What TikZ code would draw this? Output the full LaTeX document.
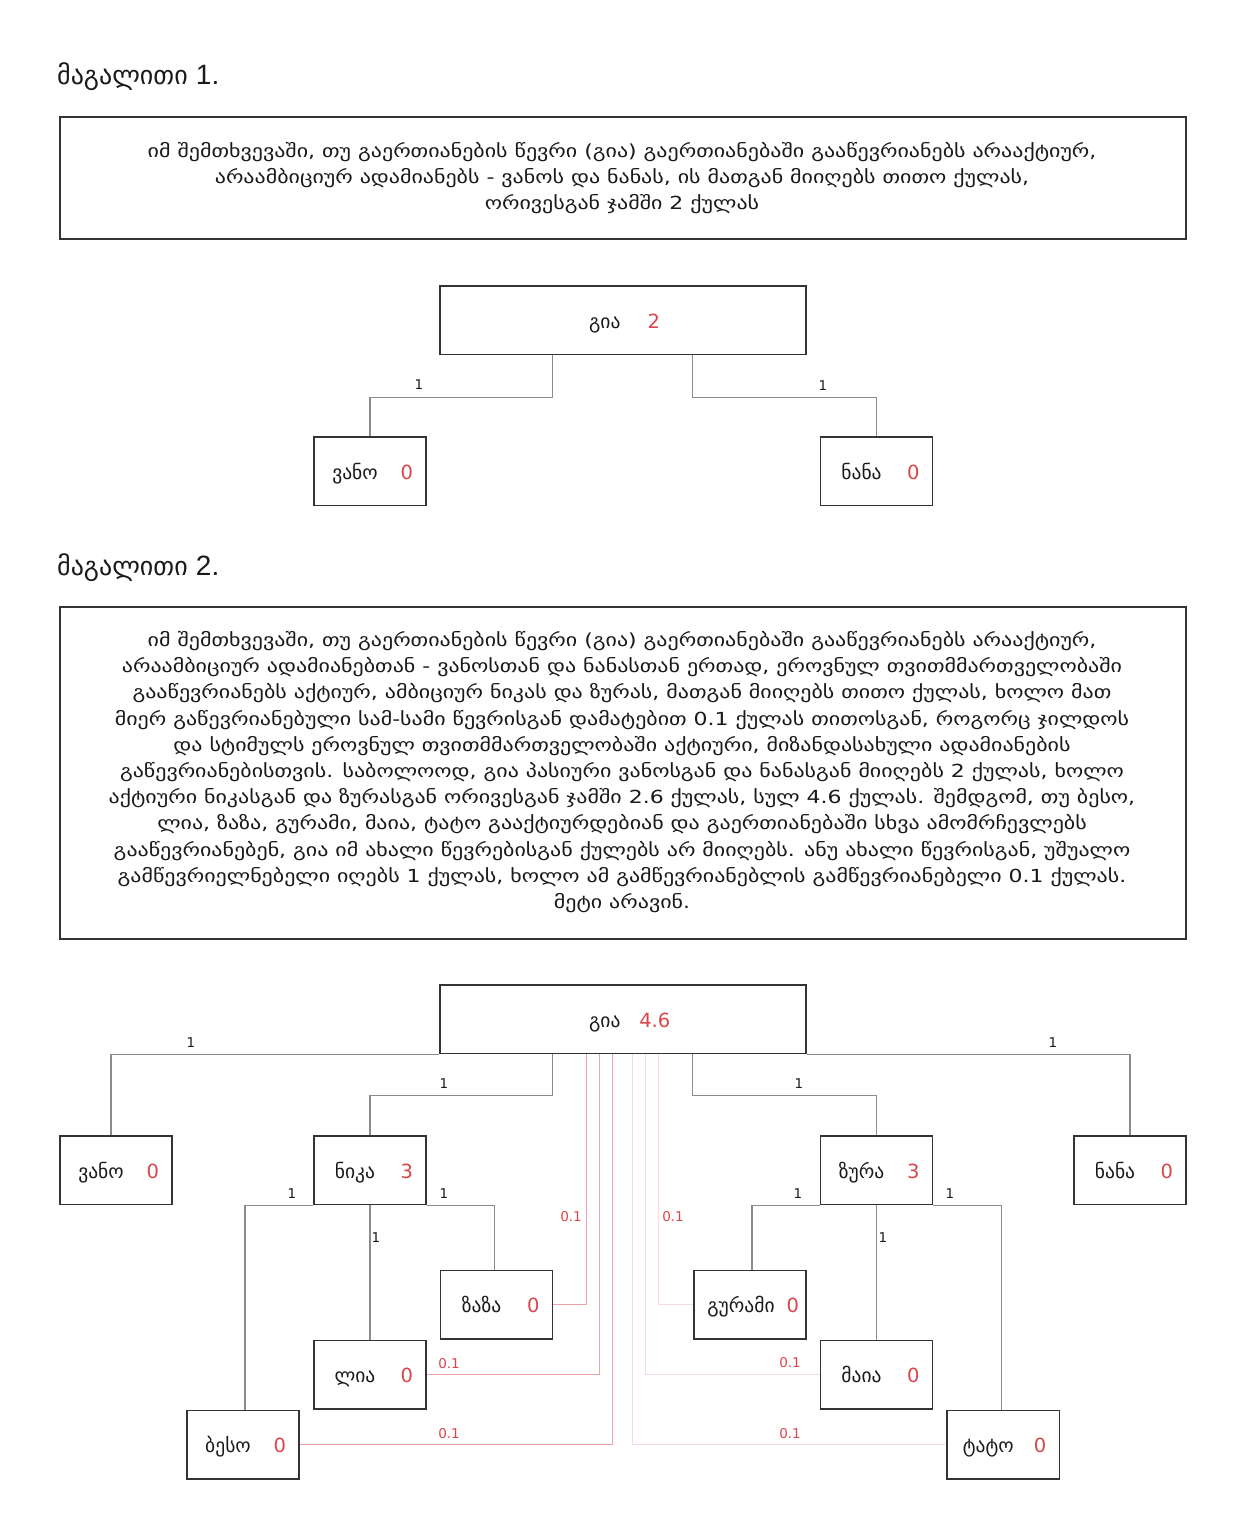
\documentclass[tikz,border=0pt]{standalone}
\usepackage{fontspec}
\setmainfont{DejaVu Sans}
\newfontfamily\headlat{Liberation Sans}
\newfontfamily\parafont[FakeStretch=1.22]{DejaVu Sans}
\usetikzlibrary{calc}
\definecolor{boxc}{HTML}{333333}
\definecolor{connc}{HTML}{8C8C8C}
\definecolor{txtc}{HTML}{1A1A1A}
\definecolor{redtxt}{HTML}{D9464B}
\definecolor{redA}{HTML}{EFA3A6}
\definecolor{redB}{HTML}{F8DADB}
\newcommand\mkperson[5]{%
  \node[pbox] (#1) at (#2,#3) {};
  \node[nm] (#1-n) at ($(#1.west)+(42,8)$) {#4};
  \node[num] (#1-v) at ($(#1.east)+(-20,8)$) {#5};
}
\begin{document}
\begin{tikzpicture}[x=1pt,y=-1pt,
  pbox/.style={draw=boxc, line width=1.5pt, fill=white, anchor=north west, inner sep=0pt,
               minimum width=112.3pt, minimum height=68.7pt},
  gbox/.style={pbox, minimum width=366pt},
  frame/.style={draw=boxc, line width=1.5pt, anchor=north west, inner sep=0pt, minimum width=1126pt},
  nm/.style={anchor=base, inner sep=0pt, text=txtc, font=\fontsize{19.5}{22}\selectfont},
  num/.style={anchor=base, inner sep=0pt, text=redtxt, font=\fontsize{19.5}{22}\selectfont},
  conn/.style={draw=connc, line width=1.3pt},
  linkA/.style={draw=redA, line width=1.3pt},
  linkB/.style={draw=redB, line width=1.3pt},
  elab/.style={inner sep=0pt, text=txtc, font=\fontsize{13.5}{15}\selectfont},
  rlab/.style={inner sep=0pt, text=redtxt, font=\fontsize{13.5}{15}\selectfont},
  para/.style={inner sep=0pt, align=center, text=txtc, font=\parafont\fontsize{18}{26.2}\selectfont},
  head/.style={anchor=base west, inner sep=0pt, text=txtc, font=\fontsize{26}{30}\selectfont}
]
\fill[white] (0,0) rectangle (1247,1526);
\useasboundingbox (0,0) rectangle (1247,1526);

% ---------- Example 1 ----------
\node[head] (h1) at (57,84.5) {მაგალითი {\headlat\fontsize{28}{30}\selectfont 1.}};
\node[frame, minimum height=122pt] (f1) at (59,116) {};
\node[para] (t1) at (622,178) {იმ შემთხვევაში, თუ გაერთიანების წევრი (გია) გაერთიანებაში გააწევრიანებს არააქტიურ,\\
არაამბიციურ ადამიანებს - ვანოს და ნანას, ის მათგან მიიღებს თითო ქულას,\\
ორივესგან ჯამში 2 ქულას};

\node[gbox] (giaA) at (439,285) {};
\node[nm] (giaA-n) at ($(giaA.center)+(-18,8)$) {გია};
\node[num] (giaA-v) at ($(giaA.center)+(31,8)$) {2};
\mkperson{vanoA}{313}{436}{ვანო}{0}
\mkperson{nanaA}{819.5}{436}{ნანა}{0}

\draw[conn] ([xshift=-70pt]giaA.south) -- ++(0,42) -| (vanoA.north);
\draw[conn] ([xshift=70pt]giaA.south) -- ++(0,42) -| (nanaA.north);
\node[elab] (lA1) at (419,385) {1};
\node[elab] (lA2) at (823,386) {1};

% ---------- Example 2 ----------
\node[head] (h2) at (57,575) {მაგალითი {\headlat\fontsize{28}{30}\selectfont 2.}};
\node[frame, minimum height=332pt] (f2) at (59,606) {};
\node[para] (t2) at (622,772) {იმ შემთხვევაში, თუ გაერთიანების წევრი (გია) გაერთიანებაში გააწევრიანებს არააქტიურ,\\
არაამბიციურ ადამიანებთან - ვანოსთან და ნანასთან ერთად, ეროვნულ თვითმმართველობაში\\
გააწევრიანებს აქტიურ, ამბიციურ ნიკას და ზურას, მათგან მიიღებს თითო ქულას, ხოლო მათ\\
მიერ გაწევრიანებული სამ-სამი წევრისგან დამატებით 0.1 ქულას თითოსგან, როგორც ჯილდოს\\
და სტიმულს ეროვნულ თვითმმართველობაში აქტიური, მიზანდასახული ადამიანების\\
გაწევრიანებისთვის. საბოლოოდ, გია პასიური ვანოსგან და ნანასგან მიიღებს 2 ქულას, ხოლო\\
აქტიური ნიკასგან და ზურასგან ორივესგან ჯამში 2.6 ქულას, სულ 4.6 ქულას. შემდგომ, თუ ბესო,\\
ლია, ზაზა, გურამი, მაია, ტატო გააქტიურდებიან და გაერთიანებაში სხვა ამომრჩევლებს\\
გააწევრიანებენ, გია იმ ახალი წევრებისგან ქულებს არ მიიღებს. ანუ ახალი წევრისგან, უშუალო\\
გამწევრიელნებელი იღებს 1 ქულას, ხოლო ამ გამწევრიანებლის გამწევრიანებელი 0.1 ქულას.\\
მეტი არავინ.};

\node[gbox] (giaB) at (439,984) {};
\mkperson{vanoB}{59}{1135}{ვანო}{0}
\mkperson{nika}{313}{1135}{ნიკა}{3}
\mkperson{zura}{819.5}{1135}{ზურა}{3}
\mkperson{nanaB}{1073}{1135}{ნანა}{0}
\mkperson{beso}{186}{1409.5}{ბესო}{0}
\mkperson{lia}{313}{1339.5}{ლია}{0}
\mkperson{zaza}{439.5}{1269.5}{ზაზა}{0}
\mkperson{maia}{819.5}{1339.5}{მაია}{0}
\mkperson{tato}{946.3}{1409.5}{ტატო}{0}
\node[pbox] (guram) at (693,1269.5) {};
\node[nm] (guram-n) at ($(guram.west)+(48,8)$) {გურამი};
\node[num] (guram-v) at ($(guram.east)+(-14,8)$) {0};
\node[nm] (giaB-n) at ($(giaB.center)+(-18,8)$) {გია};
\node[num] (giaB-v) at ($(giaB.center)+(32,8)$) {4.6};

% bonus links (0.1)
\draw[linkA] (zaza.east) -| ([xshift=-36pt]giaB.south);
\draw[linkA] (lia.east) -| ([xshift=-23pt]giaB.south);
\draw[linkA] (beso.east) -| ([xshift=-10pt]giaB.south);
\draw[linkB] (tato.west) -| ([xshift=10pt]giaB.south);
\draw[linkB] (maia.west) -| ([xshift=23pt]giaB.south);
\draw[linkB] (guram.west) -| ([xshift=36pt]giaB.south);

% membership links (1)
\draw[conn] (giaB.south west) -| ([xshift=-5pt]vanoB.north);
\draw[conn] (giaB.south east) -| (nanaB.north);
\draw[conn] ([xshift=-70pt]giaB.south) -- ++(0,41) -| (nika.north);
\draw[conn] ([xshift=70pt]giaB.south) -- ++(0,41) -| (zura.north);
\draw[conn] (nika.south west) -| ([xshift=2pt]beso.north);
\draw[conn] (nika.south) -- (lia.north);
\draw[conn] (nika.south east) -| ([xshift=-2pt]zaza.north);
\draw[conn] (zura.south west) -| ([xshift=2pt]guram.north);
\draw[conn] (zura.south) -- (maia.north);
\draw[conn] (zura.south east) -| ([xshift=-2pt]tato.north);

\node[elab] (lB1) at (191,1043) {1};
\node[elab] (lB2) at (1053,1043) {1};
\node[elab] (lB3) at (444,1084) {1};
\node[elab] (lB4) at (799,1084) {1};
\node[elab] (lB5) at (292,1194) {1};
\node[elab] (lB6) at (444,1194) {1};
\node[elab] (lB7) at (376,1238) {1};
\node[elab] (lB8) at (798,1194) {1};
\node[elab] (lB9) at (950,1194) {1};
\node[elab] (lB10) at (883,1238) {1};

\node[rlab] (rB1) at (571,1217) {0.1};
\node[rlab] (rB2) at (673,1217) {0.1};
\node[rlab] (rB3) at (449,1364) {0.1};
\node[rlab] (rB4) at (449,1434) {0.1};
\node[rlab] (rB5) at (790,1363) {0.1};
\node[rlab] (rB6) at (790,1434) {0.1};
\end{tikzpicture}
\end{document}
